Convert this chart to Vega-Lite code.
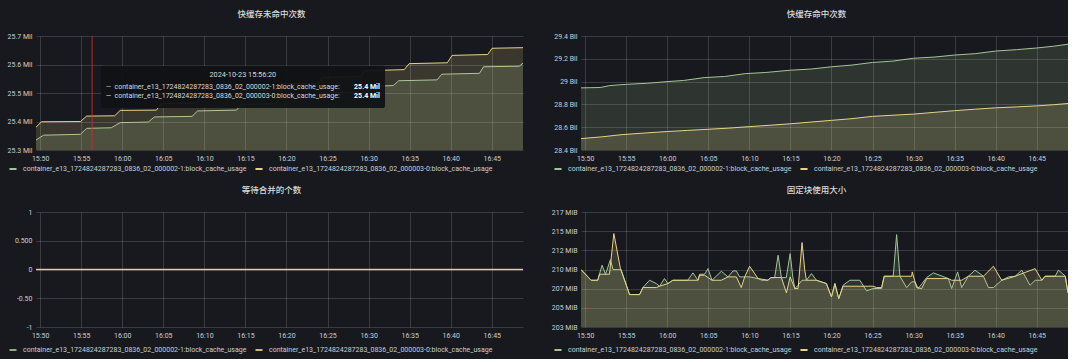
{
  "$schema": "https://vega.github.io/schema/vega-lite/v6.json",
  "padding": {"left": 7, "top": 9, "right": 0, "bottom": 5},
  "background": "#18191e",
  "datasets": {
    "p1g": [
      {"t": "2024-10-23T15:49:30", "v": 25335000}, {"t": "2024-10-23T15:50:25", "v": 25352000},
      {"t": "2024-10-23T15:54:55", "v": 25355000}, {"t": "2024-10-23T15:55:40", "v": 25376000},
      {"t": "2024-10-23T15:58:40", "v": 25378000}, {"t": "2024-10-23T15:59:45", "v": 25396000},
      {"t": "2024-10-23T16:03:10", "v": 25398000}, {"t": "2024-10-23T16:03:55", "v": 25416000},
      {"t": "2024-10-23T16:08:30", "v": 25418000}, {"t": "2024-10-23T16:09:10", "v": 25437000},
      {"t": "2024-10-23T16:13:55", "v": 25440000}, {"t": "2024-10-23T16:14:30", "v": 25460000},
      {"t": "2024-10-23T16:18:40", "v": 25462000}, {"t": "2024-10-23T16:19:10", "v": 25480000},
      {"t": "2024-10-23T16:23:40", "v": 25482000}, {"t": "2024-10-23T16:24:10", "v": 25500000},
      {"t": "2024-10-23T16:28:30", "v": 25502000}, {"t": "2024-10-23T16:29:00", "v": 25522000},
      {"t": "2024-10-23T16:33:00", "v": 25526000}, {"t": "2024-10-23T16:33:40", "v": 25543000},
      {"t": "2024-10-23T16:38:20", "v": 25546000}, {"t": "2024-10-23T16:38:55", "v": 25566000},
      {"t": "2024-10-23T16:43:30", "v": 25569000}, {"t": "2024-10-23T16:44:00", "v": 25592000},
      {"t": "2024-10-23T16:48:20", "v": 25594000}, {"t": "2024-10-23T16:48:48", "v": 25605000}
    ],
    "p1y": [
      {"t": "2024-10-23T15:49:30", "v": 25380000}, {"t": "2024-10-23T15:50:10", "v": 25399000},
      {"t": "2024-10-23T15:54:55", "v": 25400000}, {"t": "2024-10-23T15:55:40", "v": 25419000},
      {"t": "2024-10-23T15:59:05", "v": 25420000}, {"t": "2024-10-23T15:59:45", "v": 25439000},
      {"t": "2024-10-23T16:04:10", "v": 25440000}, {"t": "2024-10-23T16:04:45", "v": 25463000},
      {"t": "2024-10-23T16:09:00", "v": 25465000}, {"t": "2024-10-23T16:09:40", "v": 25486000},
      {"t": "2024-10-23T16:14:00", "v": 25488000}, {"t": "2024-10-23T16:14:30", "v": 25509000},
      {"t": "2024-10-23T16:19:00", "v": 25511000}, {"t": "2024-10-23T16:19:20", "v": 25532000},
      {"t": "2024-10-23T16:24:00", "v": 25534000}, {"t": "2024-10-23T16:24:15", "v": 25555000},
      {"t": "2024-10-23T16:29:00", "v": 25557000}, {"t": "2024-10-23T16:29:30", "v": 25578000},
      {"t": "2024-10-23T16:34:20", "v": 25582000}, {"t": "2024-10-23T16:34:56", "v": 25603000},
      {"t": "2024-10-23T16:39:35", "v": 25606000}, {"t": "2024-10-23T16:40:10", "v": 25632000},
      {"t": "2024-10-23T16:44:30", "v": 25635000}, {"t": "2024-10-23T16:45:02", "v": 25657000},
      {"t": "2024-10-23T16:48:48", "v": 25659000}
    ],
    "p2g": [
      {"t": "2024-10-23T15:49:30", "v": 28945000000}, {"t": "2024-10-23T15:51:50", "v": 28948000000},
      {"t": "2024-10-23T15:53:00", "v": 28965000000}, {"t": "2024-10-23T15:55:00", "v": 28976000000},
      {"t": "2024-10-23T15:57:30", "v": 28985000000}, {"t": "2024-10-23T16:00:00", "v": 29000000000},
      {"t": "2024-10-23T16:02:00", "v": 29010000000}, {"t": "2024-10-23T16:04:30", "v": 29035000000},
      {"t": "2024-10-23T16:07:00", "v": 29045000000}, {"t": "2024-10-23T16:09:30", "v": 29070000000},
      {"t": "2024-10-23T16:12:00", "v": 29080000000}, {"t": "2024-10-23T16:15:00", "v": 29100000000},
      {"t": "2024-10-23T16:17:30", "v": 29110000000}, {"t": "2024-10-23T16:20:00", "v": 29130000000},
      {"t": "2024-10-23T16:22:30", "v": 29145000000}, {"t": "2024-10-23T16:25:00", "v": 29168000000},
      {"t": "2024-10-23T16:27:30", "v": 29180000000}, {"t": "2024-10-23T16:30:00", "v": 29205000000},
      {"t": "2024-10-23T16:32:30", "v": 29215000000}, {"t": "2024-10-23T16:35:00", "v": 29233000000},
      {"t": "2024-10-23T16:37:30", "v": 29245000000}, {"t": "2024-10-23T16:40:00", "v": 29268000000},
      {"t": "2024-10-23T16:42:30", "v": 29280000000}, {"t": "2024-10-23T16:45:00", "v": 29295000000},
      {"t": "2024-10-23T16:47:00", "v": 29310000000}, {"t": "2024-10-23T16:48:48", "v": 29328000000}
    ],
    "p2y": [
      {"t": "2024-10-23T15:49:30", "v": 28500000000}, {"t": "2024-10-23T15:52:00", "v": 28515000000},
      {"t": "2024-10-23T15:54:30", "v": 28535000000}, {"t": "2024-10-23T15:57:30", "v": 28550000000},
      {"t": "2024-10-23T16:00:00", "v": 28562000000}, {"t": "2024-10-23T16:02:30", "v": 28572000000},
      {"t": "2024-10-23T16:05:00", "v": 28582000000}, {"t": "2024-10-23T16:07:30", "v": 28592000000},
      {"t": "2024-10-23T16:10:00", "v": 28605000000}, {"t": "2024-10-23T16:12:30", "v": 28617000000},
      {"t": "2024-10-23T16:15:00", "v": 28630000000}, {"t": "2024-10-23T16:17:30", "v": 28645000000},
      {"t": "2024-10-23T16:20:00", "v": 28660000000}, {"t": "2024-10-23T16:22:30", "v": 28675000000},
      {"t": "2024-10-23T16:25:00", "v": 28695000000}, {"t": "2024-10-23T16:27:30", "v": 28705000000},
      {"t": "2024-10-23T16:30:00", "v": 28715000000}, {"t": "2024-10-23T16:32:30", "v": 28730000000},
      {"t": "2024-10-23T16:35:00", "v": 28745000000}, {"t": "2024-10-23T16:37:30", "v": 28758000000},
      {"t": "2024-10-23T16:40:00", "v": 28770000000}, {"t": "2024-10-23T16:42:30", "v": 28778000000},
      {"t": "2024-10-23T16:45:00", "v": 28787000000}, {"t": "2024-10-23T16:47:00", "v": 28797000000},
      {"t": "2024-10-23T16:48:48", "v": 28808000000}
    ],
    "p3g": [
      {"t": "2024-10-23T15:49:30", "v": 0}, {"t": "2024-10-23T16:10:00", "v": 0}, {"t": "2024-10-23T16:48:48", "v": 0}
    ],
    "p3y": [
      {"t": "2024-10-23T15:49:30", "v": 0}, {"t": "2024-10-23T16:10:00", "v": 0}, {"t": "2024-10-23T16:48:48", "v": 0}
    ],
    "p4g": [
      {"t": "2024-10-23T15:49:30", "v": 209.8}, {"t": "2024-10-23T15:50:44", "v": 208.47},
      {"t": "2024-10-23T15:51:32", "v": 208.47}, {"t": "2024-10-23T15:52:04", "v": 210.34},
      {"t": "2024-10-23T15:52:29", "v": 209.22}, {"t": "2024-10-23T15:53:05", "v": 211.04},
      {"t": "2024-10-23T15:53:24", "v": 209.8}, {"t": "2024-10-23T15:54:23", "v": 209.8},
      {"t": "2024-10-23T15:55:25", "v": 206.69}, {"t": "2024-10-23T15:56:38", "v": 206.69},
      {"t": "2024-10-23T15:57:02", "v": 207.56}, {"t": "2024-10-23T15:57:51", "v": 208.47},
      {"t": "2024-10-23T15:58:40", "v": 208.06}, {"t": "2024-10-23T15:59:04", "v": 207.73},
      {"t": "2024-10-23T15:59:40", "v": 208.68}, {"t": "2024-10-23T16:00:05", "v": 208.06},
      {"t": "2024-10-23T16:00:41", "v": 208.47}, {"t": "2024-10-23T16:02:30", "v": 208.47},
      {"t": "2024-10-23T16:03:08", "v": 209.39}, {"t": "2024-10-23T16:03:44", "v": 208.47},
      {"t": "2024-10-23T16:03:56", "v": 209.22}, {"t": "2024-10-23T16:04:33", "v": 209.22},
      {"t": "2024-10-23T16:04:58", "v": 209.92}, {"t": "2024-10-23T16:05:27", "v": 208.47},
      {"t": "2024-10-23T16:06:35", "v": 209.59}, {"t": "2024-10-23T16:07:24", "v": 208.89},
      {"t": "2024-10-23T16:08:01", "v": 209.63}, {"t": "2024-10-23T16:08:25", "v": 209.63},
      {"t": "2024-10-23T16:08:49", "v": 208.89}, {"t": "2024-10-23T16:10:02", "v": 208.89},
      {"t": "2024-10-23T16:11:04", "v": 208.68}, {"t": "2024-10-23T16:11:30", "v": 208.47},
      {"t": "2024-10-23T16:12:17", "v": 208.47}, {"t": "2024-10-23T16:12:36", "v": 208.8},
      {"t": "2024-10-23T16:13:05", "v": 208.8}, {"t": "2024-10-23T16:13:30", "v": 211.58},
      {"t": "2024-10-23T16:13:54", "v": 208.8}, {"t": "2024-10-23T16:14:30", "v": 208.8},
      {"t": "2024-10-23T16:14:58", "v": 211.79}, {"t": "2024-10-23T16:15:18", "v": 208.8},
      {"t": "2024-10-23T16:15:32", "v": 207.44}, {"t": "2024-10-23T16:15:56", "v": 207.85},
      {"t": "2024-10-23T16:16:25", "v": 208.47}, {"t": "2024-10-23T16:16:57", "v": 208.47},
      {"t": "2024-10-23T16:17:34", "v": 209.3}, {"t": "2024-10-23T16:18:10", "v": 208.47},
      {"t": "2024-10-23T16:19:23", "v": 208.06}, {"t": "2024-10-23T16:20:00", "v": 206.4},
      {"t": "2024-10-23T16:20:25", "v": 208.06}, {"t": "2024-10-23T16:20:53", "v": 206.19},
      {"t": "2024-10-23T16:21:25", "v": 207.85}, {"t": "2024-10-23T16:22:14", "v": 208.47},
      {"t": "2024-10-23T16:23:27", "v": 208.47}, {"t": "2024-10-23T16:24:16", "v": 207.15},
      {"t": "2024-10-23T16:25:05", "v": 207.44}, {"t": "2024-10-23T16:26:06", "v": 207.44},
      {"t": "2024-10-23T16:26:25", "v": 208.97}, {"t": "2024-10-23T16:27:31", "v": 208.97},
      {"t": "2024-10-23T16:27:56", "v": 214.15}, {"t": "2024-10-23T16:28:20", "v": 208.97},
      {"t": "2024-10-23T16:29:09", "v": 207.56}, {"t": "2024-10-23T16:29:46", "v": 208.27},
      {"t": "2024-10-23T16:30:10", "v": 208.27}, {"t": "2024-10-23T16:30:34", "v": 207.44},
      {"t": "2024-10-23T16:31:35", "v": 208.8}, {"t": "2024-10-23T16:32:24", "v": 209.39},
      {"t": "2024-10-23T16:34:14", "v": 208.68}, {"t": "2024-10-23T16:34:38", "v": 207.44},
      {"t": "2024-10-23T16:35:22", "v": 209.51}, {"t": "2024-10-23T16:35:51", "v": 207.56},
      {"t": "2024-10-23T16:36:40", "v": 208.97}, {"t": "2024-10-23T16:37:29", "v": 209.72},
      {"t": "2024-10-23T16:38:30", "v": 208.97}, {"t": "2024-10-23T16:39:07", "v": 207.56},
      {"t": "2024-10-23T16:39:43", "v": 207.56}, {"t": "2024-10-23T16:40:44", "v": 208.47},
      {"t": "2024-10-23T16:41:33", "v": 208.89}, {"t": "2024-10-23T16:42:22", "v": 208.97},
      {"t": "2024-10-23T16:43:10", "v": 209.72}, {"t": "2024-10-23T16:44:11", "v": 207.85},
      {"t": "2024-10-23T16:44:48", "v": 208.47}, {"t": "2024-10-23T16:45:37", "v": 208.47},
      {"t": "2024-10-23T16:46:00", "v": 208.97}, {"t": "2024-10-23T16:47:14", "v": 208.97},
      {"t": "2024-10-23T16:47:38", "v": 209.72}, {"t": "2024-10-23T16:48:28", "v": 209.0},
      {"t": "2024-10-23T16:48:48", "v": 206.9}
    ],
    "p4y": [
      {"t": "2024-10-23T15:49:30", "v": 209.8}, {"t": "2024-10-23T15:50:44", "v": 208.47},
      {"t": "2024-10-23T15:51:32", "v": 208.47}, {"t": "2024-10-23T15:51:45", "v": 209.22},
      {"t": "2024-10-23T15:52:58", "v": 209.22}, {"t": "2024-10-23T15:53:30", "v": 214.28},
      {"t": "2024-10-23T15:54:18", "v": 209.92}, {"t": "2024-10-23T15:55:25", "v": 206.69},
      {"t": "2024-10-23T15:56:38", "v": 206.69}, {"t": "2024-10-23T15:57:02", "v": 207.56},
      {"t": "2024-10-23T15:58:40", "v": 207.56}, {"t": "2024-10-23T15:59:04", "v": 207.73},
      {"t": "2024-10-23T16:00:05", "v": 208.06}, {"t": "2024-10-23T16:00:41", "v": 208.47},
      {"t": "2024-10-23T16:03:44", "v": 208.47}, {"t": "2024-10-23T16:03:56", "v": 209.09},
      {"t": "2024-10-23T16:04:33", "v": 209.09}, {"t": "2024-10-23T16:05:27", "v": 208.47},
      {"t": "2024-10-23T16:06:35", "v": 208.47}, {"t": "2024-10-23T16:07:24", "v": 208.89},
      {"t": "2024-10-23T16:08:25", "v": 208.89}, {"t": "2024-10-23T16:09:01", "v": 207.56},
      {"t": "2024-10-23T16:09:26", "v": 208.89}, {"t": "2024-10-23T16:10:02", "v": 210.21},
      {"t": "2024-10-23T16:11:04", "v": 208.68}, {"t": "2024-10-23T16:12:17", "v": 208.47},
      {"t": "2024-10-23T16:12:36", "v": 208.8}, {"t": "2024-10-23T16:13:54", "v": 208.8},
      {"t": "2024-10-23T16:14:31", "v": 206.9}, {"t": "2024-10-23T16:14:58", "v": 208.89},
      {"t": "2024-10-23T16:15:32", "v": 207.44}, {"t": "2024-10-23T16:15:56", "v": 207.44},
      {"t": "2024-10-23T16:16:25", "v": 213.16}, {"t": "2024-10-23T16:16:45", "v": 209.72},
      {"t": "2024-10-23T16:16:57", "v": 208.47}, {"t": "2024-10-23T16:18:10", "v": 208.47},
      {"t": "2024-10-23T16:19:23", "v": 208.06}, {"t": "2024-10-23T16:20:00", "v": 206.4},
      {"t": "2024-10-23T16:20:25", "v": 208.06}, {"t": "2024-10-23T16:20:53", "v": 206.19},
      {"t": "2024-10-23T16:21:25", "v": 207.73}, {"t": "2024-10-23T16:25:05", "v": 207.73},
      {"t": "2024-10-23T16:25:30", "v": 207.56}, {"t": "2024-10-23T16:26:06", "v": 207.56},
      {"t": "2024-10-23T16:26:25", "v": 208.97}, {"t": "2024-10-23T16:29:46", "v": 208.97},
      {"t": "2024-10-23T16:29:50", "v": 209.51}, {"t": "2024-10-23T16:30:22", "v": 207.56},
      {"t": "2024-10-23T16:30:59", "v": 207.44}, {"t": "2024-10-23T16:31:35", "v": 208.68},
      {"t": "2024-10-23T16:34:14", "v": 208.68}, {"t": "2024-10-23T16:34:38", "v": 208.47},
      {"t": "2024-10-23T16:35:51", "v": 208.47}, {"t": "2024-10-23T16:36:40", "v": 208.97},
      {"t": "2024-10-23T16:38:30", "v": 208.97}, {"t": "2024-10-23T16:39:43", "v": 210.21},
      {"t": "2024-10-23T16:40:44", "v": 208.47}, {"t": "2024-10-23T16:42:22", "v": 208.97},
      {"t": "2024-10-23T16:44:48", "v": 209.92}, {"t": "2024-10-23T16:45:37", "v": 208.47},
      {"t": "2024-10-23T16:46:00", "v": 208.97}, {"t": "2024-10-23T16:48:28", "v": 208.97},
      {"t": "2024-10-23T16:48:48", "v": 206.9}
    ],
    "tipbox": [
      {"t": "2024-10-23T15:57:25", "t2": "2024-10-23T16:32:00", "v": 25447000, "v2": 25596000}
    ],
    "crs": [
      {"t": "2024-10-23T15:56:20"}
    ],
    "tiphead": [
      {"t": "2024-10-23T16:14:41", "v": 25563600, "label": "2024-10-23 15:56:20"}
    ],
    "tiprows": [
      {"td": "2024-10-23T15:58:20", "t": "2024-10-23T15:59:04", "tv": "2024-10-23T16:28:14", "v": 25521700, "c": "g", "label": "container_e13_1724824287283_0836_02_000002-1:block_cache_usage:", "value": "25.4 Mil"},
      {"td": "2024-10-23T15:58:20", "t": "2024-10-23T15:59:04", "tv": "2024-10-23T16:28:14", "v": 25488100, "c": "y", "label": "container_e13_1724824287283_0836_02_000003-0:block_cache_usage:", "value": "25.4 Mil"}
    ]
  },
  "columns": 2,
  "spacing": {"row": 12, "column": 28},
  "resolve": {"scale": {"color": "independent", "fill": "independent"}},
  "concat": [
    {
      "width": 487, "height": 114,
      "title": {"text": "快缓存未命中次数", "dx": -8},
      "layer": [
        {
          "data": {"name": "p1g"},
          "mark": {"type": "area", "fillOpacity": 0.17, "clip": true},
          "encoding": {
            "x": {"field": "t", "type": "temporal", "title": null, "scale": {"domain": [{"year": 2024, "month": 10, "date": 23, "hours": 15, "minutes": 49, "seconds": 30}, {"year": 2024, "month": 10, "date": 23, "hours": 16, "minutes": 48, "seconds": 48}], "nice": false}, "axis": {"format": "%H:%M", "tickCount": 12}},
            "y": {"field": "v", "type": "quantitative", "title": null, "scale": {"domain": [25300000, 25700000], "nice": false, "zero": false}, "axis": {"values": [25300000, 25400000, 25500000, 25600000, 25700000], "tickCount": 10, "labelExpr": "format(datum.value / 1e6, '.1f') + ' Mil'"}},
            "fill": {"datum": "g", "scale": {"domain": ["g", "y"], "range": ["#a3c596", "#e8d28a"]}, "legend": null}
          }
        },
        {
          "data": {"name": "p1g"},
          "mark": {"type": "line", "strokeWidth": 1, "clip": true},
          "encoding": {
            "x": {"field": "t", "type": "temporal"},
            "y": {"field": "v", "type": "quantitative"},
            "color": {"datum": "container_e13_1724824287283_0836_02_000002-1:block_cache_usage", "scale": {"domain": ["container_e13_1724824287283_0836_02_000002-1:block_cache_usage", "container_e13_1724824287283_0836_02_000003-0:block_cache_usage"], "range": ["#a3c596", "#e8d28a"]}, "legend": {"title": null, "orient": "none", "direction": "horizontal", "legendX": -28, "legendY": 128}}
          }
        },
        {
          "data": {"name": "p1y"},
          "mark": {"type": "area", "fillOpacity": 0.17, "clip": true},
          "encoding": {
            "x": {"field": "t", "type": "temporal"},
            "y": {"field": "v", "type": "quantitative"},
            "fill": {"datum": "y", "legend": null}
          }
        },
        {
          "data": {"name": "p1y"},
          "mark": {"type": "line", "strokeWidth": 1, "clip": true},
          "encoding": {
            "x": {"field": "t", "type": "temporal"},
            "y": {"field": "v", "type": "quantitative"},
            "color": {"datum": "container_e13_1724824287283_0836_02_000003-0:block_cache_usage"}
          }
        },
        {
          "data": {"name": "crs"},
          "mark": {"type": "rule", "color": "#c8312c", "strokeWidth": 1, "opacity": 0.85},
          "encoding": {"x": {"field": "t", "type": "temporal"}}
        },
        {
          "data": {"name": "tipbox"},
          "mark": {"type": "rect", "fill": "#111215", "opacity": 0.95, "cornerRadius": 2},
          "encoding": {
            "x": {"field": "t", "type": "temporal"}, "x2": {"field": "t2"},
            "y": {"field": "v", "type": "quantitative"}, "y2": {"field": "v2"}
          }
        },
        {
          "data": {"name": "tiphead"},
          "mark": {"type": "text", "color": "#d8d9da", "fontSize": 7.3, "font": "Roboto", "align": "center", "baseline": "middle"},
          "encoding": {"x": {"field": "t", "type": "temporal"}, "y": {"field": "v", "type": "quantitative"}, "text": {"field": "label"}}
        },
        {
          "data": {"name": "tiprows"},
          "mark": {"type": "text", "text": "—", "fontSize": 7, "font": "Roboto", "align": "center", "baseline": "middle"},
          "encoding": {"x": {"field": "td", "type": "temporal"}, "y": {"field": "v", "type": "quantitative"}, "fill": {"field": "c", "type": "nominal", "legend": null}}
        },
        {
          "data": {"name": "tiprows"},
          "mark": {"type": "text", "color": "#d8d9da", "fontSize": 7, "font": "Roboto", "align": "left", "baseline": "middle"},
          "encoding": {"x": {"field": "t", "type": "temporal"}, "y": {"field": "v", "type": "quantitative"}, "text": {"field": "label"}}
        },
        {
          "data": {"name": "tiprows"},
          "mark": {"type": "text", "color": "#ffffff", "fontSize": 7, "font": "Roboto", "fontWeight": "bold", "align": "left", "baseline": "middle"},
          "encoding": {"x": {"field": "tv", "type": "temporal"}, "y": {"field": "v", "type": "quantitative"}, "text": {"field": "value"}}
        }
      ]
    },
    {
      "width": 487, "height": 114,
      "title": {"text": "快缓存命中次数", "dx": -8},
      "layer": [
        {
          "data": {"name": "p2g"},
          "mark": {"type": "area", "fillOpacity": 0.17, "clip": true},
          "encoding": {
            "x": {"field": "t", "type": "temporal", "title": null, "scale": {"domain": [{"year": 2024, "month": 10, "date": 23, "hours": 15, "minutes": 49, "seconds": 30}, {"year": 2024, "month": 10, "date": 23, "hours": 16, "minutes": 48, "seconds": 48}], "nice": false}, "axis": {"format": "%H:%M", "tickCount": 12}},
            "y": {"field": "v", "type": "quantitative", "title": null, "scale": {"domain": [28400000000, 29400000000], "nice": false, "zero": false}, "axis": {"values": [28400000000, 28600000000, 28800000000, 29000000000, 29200000000, 29400000000], "tickCount": 10, "labelExpr": "format(datum.value / 1e9, '.1~f') + ' Bil'"}},
            "fill": {"datum": "g", "scale": {"domain": ["g", "y"], "range": ["#a3c596", "#e8d28a"]}, "legend": null}
          }
        },
        {
          "data": {"name": "p2g"},
          "mark": {"type": "line", "strokeWidth": 1, "clip": true},
          "encoding": {
            "x": {"field": "t", "type": "temporal"},
            "y": {"field": "v", "type": "quantitative"},
            "color": {"datum": "container_e13_1724824287283_0836_02_000002-1:block_cache_usage", "scale": {"domain": ["container_e13_1724824287283_0836_02_000002-1:block_cache_usage", "container_e13_1724824287283_0836_02_000003-0:block_cache_usage"], "range": ["#a3c596", "#e8d28a"]}, "legend": {"title": null, "orient": "none", "direction": "horizontal", "legendX": -28, "legendY": 128}}
          }
        },
        {
          "data": {"name": "p2y"},
          "mark": {"type": "area", "fillOpacity": 0.17, "clip": true},
          "encoding": {
            "x": {"field": "t", "type": "temporal"},
            "y": {"field": "v", "type": "quantitative"},
            "fill": {"datum": "y", "legend": null}
          }
        },
        {
          "data": {"name": "p2y"},
          "mark": {"type": "line", "strokeWidth": 1, "clip": true},
          "encoding": {
            "x": {"field": "t", "type": "temporal"},
            "y": {"field": "v", "type": "quantitative"},
            "color": {"datum": "container_e13_1724824287283_0836_02_000003-0:block_cache_usage"}
          }
        }
      ]
    },
    {
      "width": 487, "height": 115,
      "title": {"text": "等待合并的个数", "dx": -8},
      "layer": [
        {
          "data": {"name": "p3g"},
          "mark": {"type": "line", "strokeWidth": 1, "clip": true},
          "encoding": {
            "x": {"field": "t", "type": "temporal", "title": null, "scale": {"domain": [{"year": 2024, "month": 10, "date": 23, "hours": 15, "minutes": 49, "seconds": 30}, {"year": 2024, "month": 10, "date": 23, "hours": 16, "minutes": 48, "seconds": 48}], "nice": false}, "axis": {"format": "%H:%M", "tickCount": 12}},
            "y": {"field": "v", "type": "quantitative", "title": null, "scale": {"domain": [-1, 1], "nice": false, "zero": false}, "axis": {"values": [-1, -0.5, 0, 0.5, 1], "tickCount": 10, "labelExpr": "datum.value == 0.5 ? '0.500' : datum.value == -0.5 ? '-0.50' : datum.value == -1 ? '-1' : format(datum.value, 'd')"}},
            "color": {"datum": "container_e13_1724824287283_0836_02_000002-1:block_cache_usage", "scale": {"domain": ["container_e13_1724824287283_0836_02_000002-1:block_cache_usage", "container_e13_1724824287283_0836_02_000003-0:block_cache_usage"], "range": ["#a3c596", "#e8d28a"]}, "legend": {"title": null, "orient": "none", "direction": "horizontal", "legendX": -28, "legendY": 133}}
          }
        },
        {
          "data": {"name": "p3y"},
          "mark": {"type": "line", "strokeWidth": 1.6, "opacity": 0.85, "clip": true},
          "encoding": {
            "x": {"field": "t", "type": "temporal"},
            "y": {"field": "v", "type": "quantitative"},
            "color": {"datum": "container_e13_1724824287283_0836_02_000003-0:block_cache_usage"}
          }
        }
      ]
    },
    {
      "width": 487, "height": 115,
      "title": {"text": "固定块使用大小", "dx": -8},
      "layer": [
        {
          "data": {"name": "p4g"},
          "mark": {"type": "area", "fillOpacity": 0.17, "clip": true},
          "encoding": {
            "x": {"field": "t", "type": "temporal", "title": null, "scale": {"domain": [{"year": 2024, "month": 10, "date": 23, "hours": 15, "minutes": 49, "seconds": 30}, {"year": 2024, "month": 10, "date": 23, "hours": 16, "minutes": 48, "seconds": 48}], "nice": false}, "axis": {"format": "%H:%M", "tickCount": 12}},
            "y": {"field": "v", "type": "quantitative", "title": null, "scale": {"domain": [202.655, 216.961], "nice": false, "zero": false}, "axis": {"values": [202.655, 205.039, 207.424, 209.808, 212.193, 214.577, 216.961], "tickCount": 10, "labelExpr": "format(datum.value, '.0f') + ' MiB'"}},
            "fill": {"datum": "g", "scale": {"domain": ["g", "y"], "range": ["#a3c596", "#e8d28a"]}, "legend": null}
          }
        },
        {
          "data": {"name": "p4g"},
          "mark": {"type": "line", "strokeWidth": 1, "clip": true},
          "encoding": {
            "x": {"field": "t", "type": "temporal"},
            "y": {"field": "v", "type": "quantitative"},
            "color": {"datum": "container_e13_1724824287283_0836_02_000002-1:block_cache_usage", "scale": {"domain": ["container_e13_1724824287283_0836_02_000002-1:block_cache_usage", "container_e13_1724824287283_0836_02_000003-0:block_cache_usage"], "range": ["#a3c596", "#e8d28a"]}, "legend": {"title": null, "orient": "none", "direction": "horizontal", "legendX": -28, "legendY": 133}}
          }
        },
        {
          "data": {"name": "p4y"},
          "mark": {"type": "area", "fillOpacity": 0.17, "clip": true},
          "encoding": {
            "x": {"field": "t", "type": "temporal"},
            "y": {"field": "v", "type": "quantitative"},
            "fill": {"datum": "y", "legend": null}
          }
        },
        {
          "data": {"name": "p4y"},
          "mark": {"type": "line", "strokeWidth": 1, "clip": true},
          "encoding": {
            "x": {"field": "t", "type": "temporal"},
            "y": {"field": "v", "type": "quantitative"},
            "color": {"datum": "container_e13_1724824287283_0836_02_000003-0:block_cache_usage"}
          }
        }
      ]
    }
  ],
  "config": {
    "font": "Roboto",
    "view": {"stroke": null},
    "axis": {"labelColor": "#c7d0d9", "labelFontSize": 7, "labelFont": "Roboto", "gridColor": "#ffffff", "gridOpacity": 0.15, "gridWidth": 1, "domain": false, "ticks": false, "labelOverlap": false},
    "axisX": {"labelPadding": 4, "labelFlush": false},
    "axisY": {"labelPadding": 4},
    "legend": {"labelColor": "#c7d0d9", "labelFontSize": 7, "labelFont": "Roboto", "labelLimit": 400, "symbolType": "stroke", "symbolStrokeWidth": 2, "symbolSize": 50, "columnPadding": 4, "labelOffset": 5, "padding": 0},
    "title": {"font": "Noto Sans CJK SC", "fontSize": 8.5, "fontWeight": 500, "color": "#d8d9da", "offset": 14, "anchor": "middle", "frame": "group", "baseline": "bottom"}
  }
}
